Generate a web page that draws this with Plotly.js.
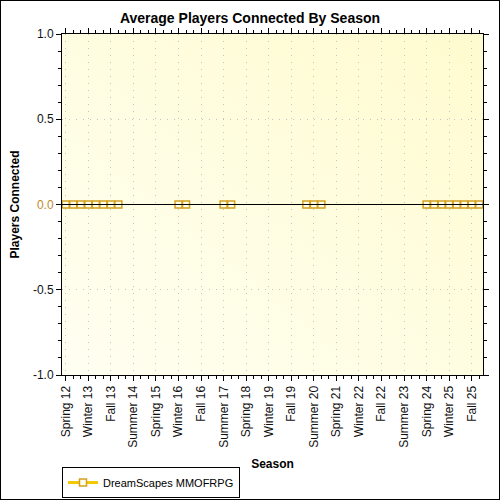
<!DOCTYPE html>
<html>
<head>
<meta charset="utf-8">
<script src="https://cdn.plot.ly/plotly-3.0.1.min.js"></script>
<style>
  html, body { margin: 0; padding: 0; background: #fff; }
  #frame { width: 500px; height: 500px; box-sizing: border-box; border: 1px solid #000; }
  #chart { width: 498px; height: 498px; }
</style>
</head>
<body>
<div id="frame"><div id="chart"></div></div>
<script>
// ---- data ----
const categories = [
  "Spring 12","Summer 12","Fall 12","Winter 13",
  "Spring 13","Summer 13","Fall 13","Winter 14",
  "Spring 14","Summer 14","Fall 14","Winter 15",
  "Spring 15","Summer 15","Fall 15","Winter 16",
  "Spring 16","Summer 16","Fall 16","Winter 17",
  "Spring 17","Summer 17","Fall 17","Winter 18",
  "Spring 18","Summer 18","Fall 18","Winter 19",
  "Spring 19","Summer 19","Fall 19","Winter 20",
  "Spring 20","Summer 20","Fall 20","Winter 21",
  "Spring 21","Summer 21","Fall 21","Winter 22",
  "Spring 22","Summer 22","Fall 22","Winter 23",
  "Spring 23","Summer 23","Fall 23","Winter 24",
  "Spring 24","Summer 24","Fall 24","Winter 25",
  "Spring 25","Summer 25","Fall 25","Winter 26"
];
const playersConnected = [
  0,0,0,0, 0,0,0,0,
  null,null,null,null, null,null,null,
  0,0,
  null,null,null,null,
  0,0,
  null,null,null,null,null,null,null,null,null,
  0,0,0,
  null,null,null,null,null,null,null,null,null,null,null,null,null,
  0,0,0,0, 0,0,0,0
];
const seriesName = "DreamScapes MMOFRPG";
const labelStep = 3;
const yTickVals = [1, 0.5, 0, -0.5, -1];
const yTickText = ["1.0", "0.5", "0.0", "-0.5", "-1.0"];

// ---- build ----
const xIdx = categories.map((c, i) => i);
const xTickVals = xIdx.filter(i => i % labelStep === 0);
const xTickText = xTickVals.map(i => categories[i]);
const yTickTextStyled = yTickText.map(t => t === "0.0" ? '<span style="color:#c08a2a">' + t + '</span>' : t);

const font = "Liberation Sans, Arial, sans-serif";
const grad = '<svg xmlns="http://www.w3.org/2000/svg" width="100" height="100" viewBox="0 0 100 100" preserveAspectRatio="none">' +
  '<defs><linearGradient id="g" x1="0" y1="1" x2="1" y2="0">' +
  '<stop offset="0" stop-color="#FFFFF2"/><stop offset="1" stop-color="#FFFBCF"/></linearGradient></defs>' +
  '<rect width="100" height="100" fill="url(#g)"/></svg>';

const trace = {
  x: xIdx,
  y: playersConnected,
  name: seriesName,
  type: "scatter",
  mode: "lines+markers",
  connectgaps: false,
  line: { color: "#F2C800", width: 3 },
  marker: { symbol: "square", size: 7, color: "#FFFFEE", line: { color: "#D4A020", width: 1.5 } },
  hoverinfo: "x+y"
};

const dash = "1px,6px";
const layout = {
  width: 498, height: 498,
  paper_bgcolor: "#ffffff",
  plot_bgcolor: "#FFFFEA",
  margin: { l: 60.5, r: 16, t: 32.5, b: 124, autoexpand: false },
  title: {
    text: "<b>Average Players Connected By Season</b>",
    font: { family: font, size: 14, color: "#000" },
    x: 0.5, xref: "container", xanchor: "center",
    y: 0.966, yref: "container", yanchor: "middle"
  },
  showlegend: true,
  legend: {
    orientation: "h",
    x: 0, xanchor: "left",
    y: -0.27, yanchor: "top",
    bgcolor: "#ffffff", bordercolor: "#000", borderwidth: 1,
    font: { family: font, size: 11, color: "#000" },
    itemwidth: 30
  },
  xaxis: {
    automargin: false,
    range: [-0.5, categories.length - 0.5],
    tickmode: "array", tickvals: xTickVals, ticktext: xTickText,
    tickangle: -90,
    tickfont: { family: font, size: 12, color: "#111" },
    ticks: "outside", ticklen: 5, tickcolor: "#000",
    minor: { dtick: 1, tick0: 0, ticks: "outside", ticklen: 3, tickcolor: "#000", showgrid: false },
    showline: true, linecolor: "#000", linewidth: 1, mirror: "ticks",
    showgrid: true, gridcolor: "#c4c4c4", griddash: dash,
    zeroline: false,
    title: { text: "<b>Season</b>", font: { family: font, size: 12, color: "#000" }, standoff: 12 }
  },
  yaxis: {
    automargin: false,
    range: [-1, 1],
    tickmode: "array", tickvals: yTickVals, ticktext: yTickTextStyled,
    tickfont: { family: font, size: 12, color: "#111" },
    ticks: "outside", ticklen: 5, tickcolor: "#000",
    minor: { dtick: 0.1, tick0: 0, ticks: "outside", ticklen: 3, tickcolor: "#000", showgrid: false },
    showline: true, linecolor: "#000", linewidth: 1, mirror: "ticks",
    showgrid: true, gridcolor: "#c4c4c4", griddash: dash,
    zeroline: false,
    title: { text: "<b>Players Connected</b>", font: { family: font, size: 12, color: "#000" }, standoff: 10 }
  },
  images: [{
    source: "data:image/svg+xml;charset=utf-8," + encodeURIComponent(grad),
    xref: "paper", yref: "paper", x: 0, y: 1, sizex: 1, sizey: 1,
    xanchor: "left", yanchor: "top", sizing: "stretch", layer: "below"
  }],
  shapes: [{
    type: "line", xref: "paper", x0: 0, x1: 1, yref: "y", y0: 0, y1: 0,
    line: { color: "#000", width: 1 }, layer: "above"
  }]
};

Plotly.newPlot("chart", [trace], layout, { displayModeBar: false, staticPlot: true });
</script>
</body>
</html>
